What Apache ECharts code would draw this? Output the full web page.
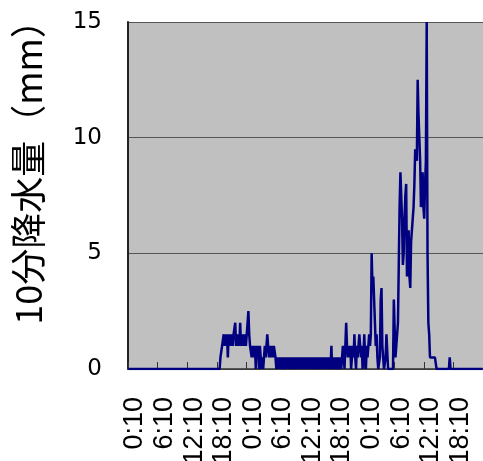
<!DOCTYPE html>
<html>
<head>
<meta charset="utf-8">
<script src="https://cdn.jsdelivr.net/npm/echarts@6/dist/echarts.min.js"></script>
<style>
html,body{margin:0;padding:0;background:#fff;}
#chart{width:483px;height:461px;}
</style>
</head>
<body>
<div id="chart"></div>
<script>
// ---- data (10-minute precipitation, mm), one array per day, rows of 12 values (2 hours) ----
const dayNames = ["1", "2", "3"];
const day1Values = [
  0,0,0,0,0,0,0,0,0,0,0,0,
  0,0,0,0,0,0,0,0,0,0,0,0,
  0,0,0,0,0,0,0,0,0,0,0,0,
  0,0,0,0,0,0,0,0,0,0,0,0,
  0,0,0,0,0,0,0,0,0,0,0,0,
  0,0,0,0,0,0,0,0,0,0,0,0,
  0,0,0,0,0,0,0,0,0,0,0,0,
  0,0,0,0,0,0,0,0,0,0,0,0,
  0,0,0,0,0,0,0,0,0,0,0,0,
  0,0,0,0,0.5,0.5,1.0,1.0,1.5,1.0,1.5,1.0,
  1.5,0.5,1.5,1.0,1.5,1.0,1.5,1.0,1.5,1.5,2.0,1.0,
  1.5,1.0,1.5,1.0,2.0,1.0,1.5,1.0,1.5,1.0,1.5,1.0
];
const day2Values = [
  1.5,1.5,2.5,1.5,1.0,1.0,0.5,1.0,1.0,0.5,1.0,0,
  1.0,0.5,1.0,0,1.0,0.5,0,0.5,0,0.5,1.0,0.5,
  1.0,1.5,1.0,0.5,1.0,1.0,0.5,1.0,0.5,1.0,1.0,0.5,
  0,0.5,0,0.5,0,0.5,0.5,0,0.5,0,0,0.5,
  0,0.5,0,0.5,0,0.5,0.5,0,0.5,0,0.5,0,
  0,0.5,0,0.5,0,0.5,0,0.5,0.5,0,0.5,0,
  0.5,0,0,0.5,0,0.5,0,0.5,0.5,0,0.5,0,
  0.5,0,0,0.5,0,0.5,0,0.5,0,0.5,0.5,0,
  0.5,0,0.5,0,0,0.5,0,1.0,0,0,0.5,0,
  0.5,0.5,0,0.5,0.5,0,0.5,0,0.5,1.0,0.5,0,
  1.0,2.0,1.0,0.5,1.0,0.5,1.0,0,0.5,1.0,0.5,1.5,
  0.5,0,1.0,0.5,1.0,1.5,1.0,0.5,1.0,0,0.5,1.5
];
const day3Values = [
  0.5,0,1.0,0.5,1.0,1.5,1.0,1.5,5.0,3.5,4.0,4.0,
  4.0,1.0,1.5,0.5,0,0,0.5,3.0,3.5,1.0,1.0,0,
  0,0.5,1.5,1.5,0,0,0,0,0,0,0,3.0,
  3.0,0.5,0.5,0.5,2.0,4.5,7.0,8.5,8.5,6.5,4.5,5.0,
  6.5,7.5,8.0,4.0,5.0,6.0,4.0,3.5,5.5,6.0,6.5,7.0,
  8.0,9.5,9.5,9.0,12.5,11.0,10.0,9.0,7.0,7.5,8.5,7.0,
  6.5,8.0,9.0,15.0,5.0,2.0,1.5,0.5,0.5,0.5,0.5,0.5,
  0.5,0.5,0.5,0,0,0,0,0,0,0,0,0,
  0,0,0,0,0,0,0,0.5,0,0,0,0,
  0,0,0,0,0,0,0,0,0,0,0,0,
  0,0,0,0,0,0,0,0,0,0,0,0,
  0,0,0,0,0,0,0,0,0,0,0,0
];
const yAxisTitle = "10分降水量（mm）";
const yMin = 0, yMax = 15, yStep = 5;
const labelEvery = 36; // one label every 6 hours

// categories: 0:10 ... 24:00 for each day
const categories = [];
dayNames.forEach(function (d) {
  for (let k = 1; k <= 144; k++) {
    const mins = k * 10;
    const h = Math.floor(mins / 60), m = mins % 60;
    categories.push(d + " " + h + ":" + (m < 10 ? "0" + m : m));
  }
});
const values = day1Values.concat(day2Values, day3Values);

const chart = echarts.init(document.getElementById('chart'), null, {renderer: 'canvas'});
chart.setOption({
  animation: false,
  backgroundColor: '#ffffff',
  grid: {
    left: 128, right: 0, top: 22, bottom: 92,
    containLabel: false, outerBoundsMode: 'none',
    show: true, backgroundColor: '#C0C0C0', borderWidth: 0
  },
  xAxis: {
    type: 'category',
    data: categories,
    boundaryGap: true,
    axisLine: {show: true, lineStyle: {color: '#333333', width: 1.5}},
    axisTick: {show: true, inside: true, length: 7, interval: labelEvery - 1,
      lineStyle: {color: '#333333', width: 1}},
    axisLabel: {
      interval: labelEvery - 1,
      rotate: 90,
      align: 'right',
      verticalAlign: 'top',
      lineHeight: 13,
      margin: 28,
      color: '#000000',
      fontFamily: 'Liberation Sans, Arial, sans-serif',
      fontSize: 27,
      formatter: function (v) { return v.split(' ')[1]; }
    },
    splitLine: {show: false}
  },
  yAxis: {
    type: 'value',
    min: yMin, max: yMax, interval: yStep,
    name: yAxisTitle,
    nameLocation: 'middle',
    nameRotate: 90,
    nameGap: 82,
    nameTextStyle: {
      fontFamily: 'Noto Sans CJK JP, sans-serif',
      fontSize: 36, color: '#000000',
      padding: [0, 0, 0, 64]
    },
    axisLine: {show: true, lineStyle: {color: '#222222', width: 2}},
    axisTick: {show: false},
    axisLabel: {
      margin: 26, color: '#000000',
      fontFamily: 'DejaVu Sans, sans-serif', fontSize: 23
    },
    splitLine: {show: true, lineStyle: {color: '#555555', width: 1}}
  },
  series: [{
    type: 'line',
    data: values,
    symbol: 'none',
    lineStyle: {color: '#000080', width: 2.5},
    itemStyle: {color: '#000080'}
  }]
});
</script>
</body>
</html>
